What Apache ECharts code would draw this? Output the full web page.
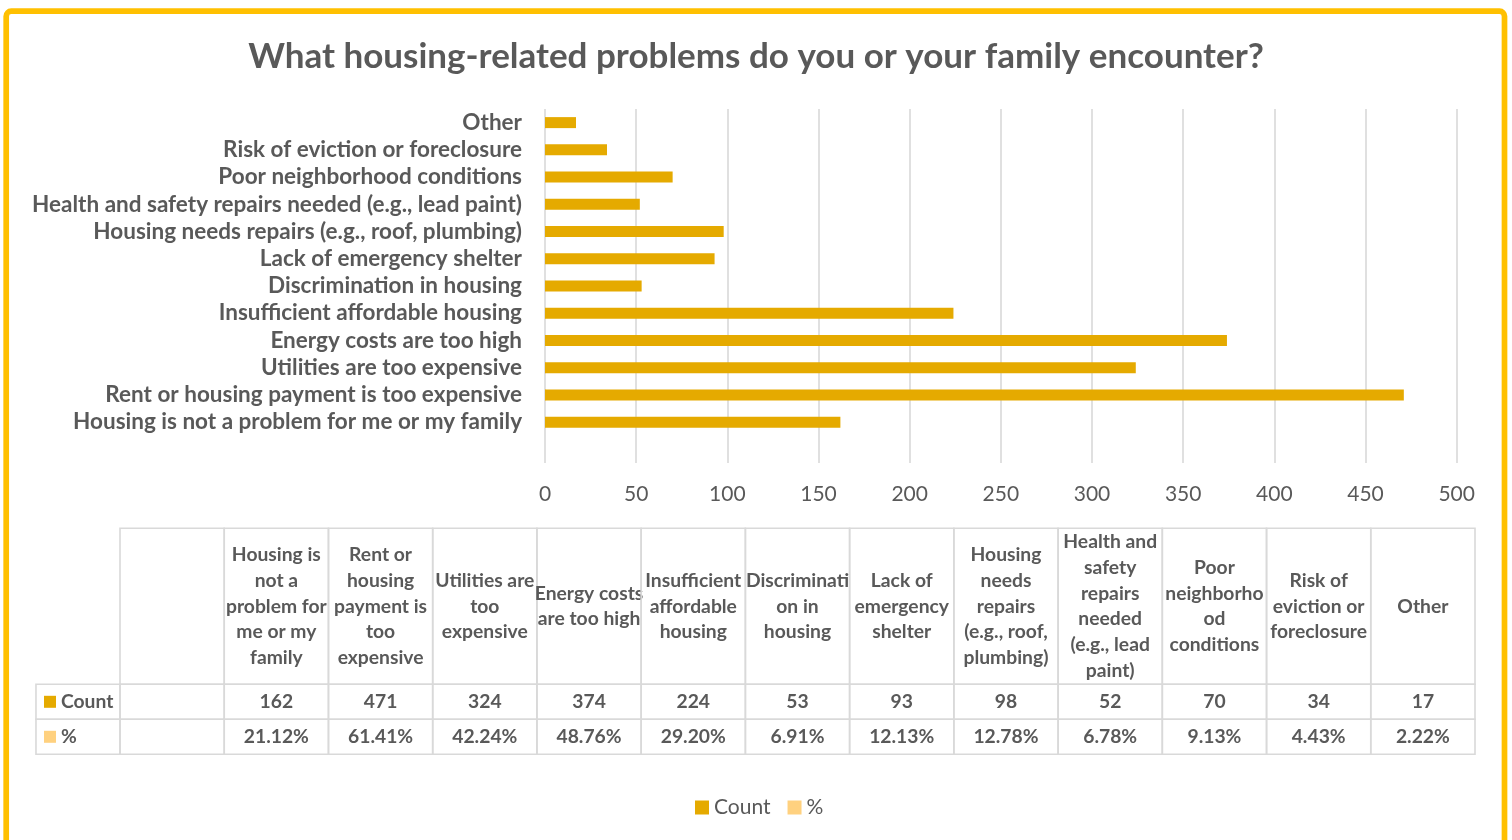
<!DOCTYPE html>
<html>
<head>
<meta charset="utf-8">
<title>Housing-related problems</title>
<script src="https://cdn.jsdelivr.net/npm/echarts@6/dist/echarts.min.js"></script>
<style>
  html, body { margin: 0; padding: 0; background: #ffffff; }
  #chart { width: 1512px; height: 840px; }
</style>
</head>
<body>
<div id="chart"></div>
<script>
// Survey answers; the first, blank category is the empty leading column of the data table.
const categories = [
  '',
  'Housing is not a problem for me or my family',
  'Rent or housing payment is too expensive',
  'Utilities are too expensive',
  'Energy costs are too high',
  'Insufficient affordable housing',
  'Discrimination in housing',
  'Lack of emergency shelter',
  'Housing needs repairs (e.g., roof, plumbing)',
  'Health and safety repairs needed (e.g., lead paint)',
  'Poor neighborhood conditions',
  'Risk of eviction or foreclosure',
  'Other'
];

const counts = [null, 162, 471, 324, 374, 224, 53, 93, 98, 52, 70, 34, 17];

const shares = [null, 0.2112, 0.6141, 0.4224, 0.4876, 0.2920, 0.0691, 0.1213, 0.1278, 0.0678, 0.0913, 0.0443, 0.0222];

// Column headings of the data table, wrapped as they appear in the cells.
const tableHeaders = [
  '',
  'Housing is\nnot a\nproblem for\nme or my\nfamily',
  'Rent or\nhousing\npayment is\ntoo\nexpensive',
  'Utilities are\ntoo\nexpensive',
  'Energy costs\nare too high',
  'Insufficient\naffordable\nhousing',
  'Discriminati\non in\nhousing',
  'Lack of\nemergency\nshelter',
  'Housing\nneeds\nrepairs\n(e.g., roof,\nplumbing)',
  'Health and\nsafety\nrepairs\nneeded\n(e.g., lead\npaint)',
  'Poor\nneighborho\nod\nconditions',
  'Risk of\neviction or\nforeclosure',
  'Other'
];

const seriesNames = ['Count', '%'];
const xTicks = { min: 0, max: 500, interval: 50 };

const COLOR_COUNT = '#E5AA00';
const COLOR_SHARE = '#FFD17F';
const TEXT = '#595959';
const RULE = '#D9D9D9';
const FONT = 'Lato';
const TABLE_FONT = 'bold 19.3px ' + FONT;

// Table layout in row units: a tall heading row, then one row per series.
const HEAD_H = 156 / 35;
const LABEL_COL_W = 84 / 104.2;

const fmtShare = v => (v * 100).toFixed(2) + '%';

// One entry per table cell: [column, row, kind, text]
const cells = [];
categories.forEach((c, i) => {
  cells.push([i, 0, 'head', tableHeaders[i]]);
  cells.push([i, 1, 'value', counts[i] == null ? '' : String(counts[i])]);
  cells.push([i, 2, 'value', shares[i] == null ? '' : fmtShare(shares[i])]);
});
cells.push([-1, 1, 'legend', seriesNames[0]]);
cells.push([-1, 2, 'legend', seriesNames[1]]);

function rowSpan(r) {
  if (r === 0) return [0, HEAD_H];
  return [HEAD_H + r - 1, HEAD_H + r];
}

function renderCell(params, api) {
  const cell = cells[params.dataIndex];
  const col = cell[0], row = cell[1], kind = cell[2], text = cell[3];
  const xs = col < 0 ? [-LABEL_COL_W, 0] : [col, col + 1];
  const ys = rowSpan(row);
  const p0 = api.coord([xs[0], ys[0]]);
  const p1 = api.coord([xs[1], ys[1]]);
  const x = p0[0], y = p0[1], w = p1[0] - p0[0], h = p1[1] - p0[1];
  const children = [{
    type: 'rect',
    shape: { x: x, y: y, width: w, height: h },
    style: { fill: 'none', stroke: RULE, lineWidth: 1.6 }
  }];
  if (kind === 'legend') {
    children.push({
      type: 'rect',
      shape: { x: x + 8, y: y + h / 2 - 6, width: 12, height: 12 },
      style: { fill: row === 1 ? COLOR_COUNT : COLOR_SHARE }
    });
    children.push({
      type: 'text',
      style: {
        x: x + 25, y: y + h / 2, text: text,
        fill: TEXT, font: TABLE_FONT,
        align: 'left', verticalAlign: 'middle'
      }
    });
  } else if (text) {
    children.push({
      type: 'text',
      style: {
        x: x + w / 2, y: y + h / 2, text: text,
        fill: TEXT, font: TABLE_FONT, lineHeight: 25.8,
        align: 'center', verticalAlign: 'middle'
      }
    });
  }
  return { type: 'group', children: children };
}

const chart = echarts.init(document.getElementById('chart'), null, { renderer: 'canvas' });

chart.setOption({
  backgroundColor: '#ffffff',
  animation: false,
  textStyle: { fontFamily: FONT },
  title: {
    text: 'What housing-related problems do you or your family encounter?',
    left: 'center',
    top: 34,
    textStyle: { fontFamily: FONT, fontSize: 35, fontWeight: 'bold', color: TEXT }
  },
  legend: {
    data: seriesNames,
    left: 695,
    top: 797,
    padding: 0,
    icon: 'rect',
    itemWidth: 14,
    itemHeight: 14,
    itemGap: 17,
    textStyle: { fontFamily: FONT, fontSize: 21, color: TEXT }
  },
  graphic: [{
    type: 'rect',
    silent: true,
    z: 100,
    shape: { x: 6.2, y: 11.2, width: 1498.3, height: 860, r: 5 },
    style: { fill: 'none', stroke: '#FFC000', lineWidth: 5.7 }
  }],
  grid: [
    { left: 545, right: 55.3, top: 109, height: 354, containLabel: false },
    { left: 120, width: 1355, top: 528.3, height: 226, containLabel: false }
  ],
  xAxis: [{
    type: 'value',
    gridIndex: 0,
    min: xTicks.min, max: xTicks.max, interval: xTicks.interval,
    axisLine: { show: false },
    axisTick: { show: false },
    splitLine: { lineStyle: { color: RULE, width: 1.6 } },
    axisLabel: { color: TEXT, fontFamily: FONT, fontSize: 21, margin: 21 }
  }, {
    type: 'value',
    gridIndex: 1,
    min: 0, max: categories.length,
    show: false
  }],
  yAxis: [{
    type: 'category',
    gridIndex: 0,
    data: categories,
    axisLine: { show: false },
    axisTick: { show: false },
    splitLine: { show: false },
    axisLabel: {
      interval: 0,
      color: TEXT, fontFamily: FONT, fontSize: 22.5, fontWeight: 'bold', margin: 23
    }
  }, {
    type: 'value',
    gridIndex: 1,
    min: 0, max: HEAD_H + 2,
    inverse: true,
    show: false
  }],
  series: [{
    name: seriesNames[1],
    type: 'bar',
    xAxisIndex: 0, yAxisIndex: 0,
    data: shares,
    barWidth: 11,
    itemStyle: { color: COLOR_SHARE }
  }, {
    name: seriesNames[0],
    type: 'bar',
    xAxisIndex: 0, yAxisIndex: 0,
    data: counts,
    barWidth: 11,
    barGap: '-100%',
    itemStyle: { color: COLOR_COUNT }
  }, {
    type: 'custom',
    xAxisIndex: 1, yAxisIndex: 1,
    data: cells.map(c => [c[0], c[1]]),
    renderItem: renderCell,
    silent: true,
    clip: false
  }]
});
</script>
</body>
</html>
